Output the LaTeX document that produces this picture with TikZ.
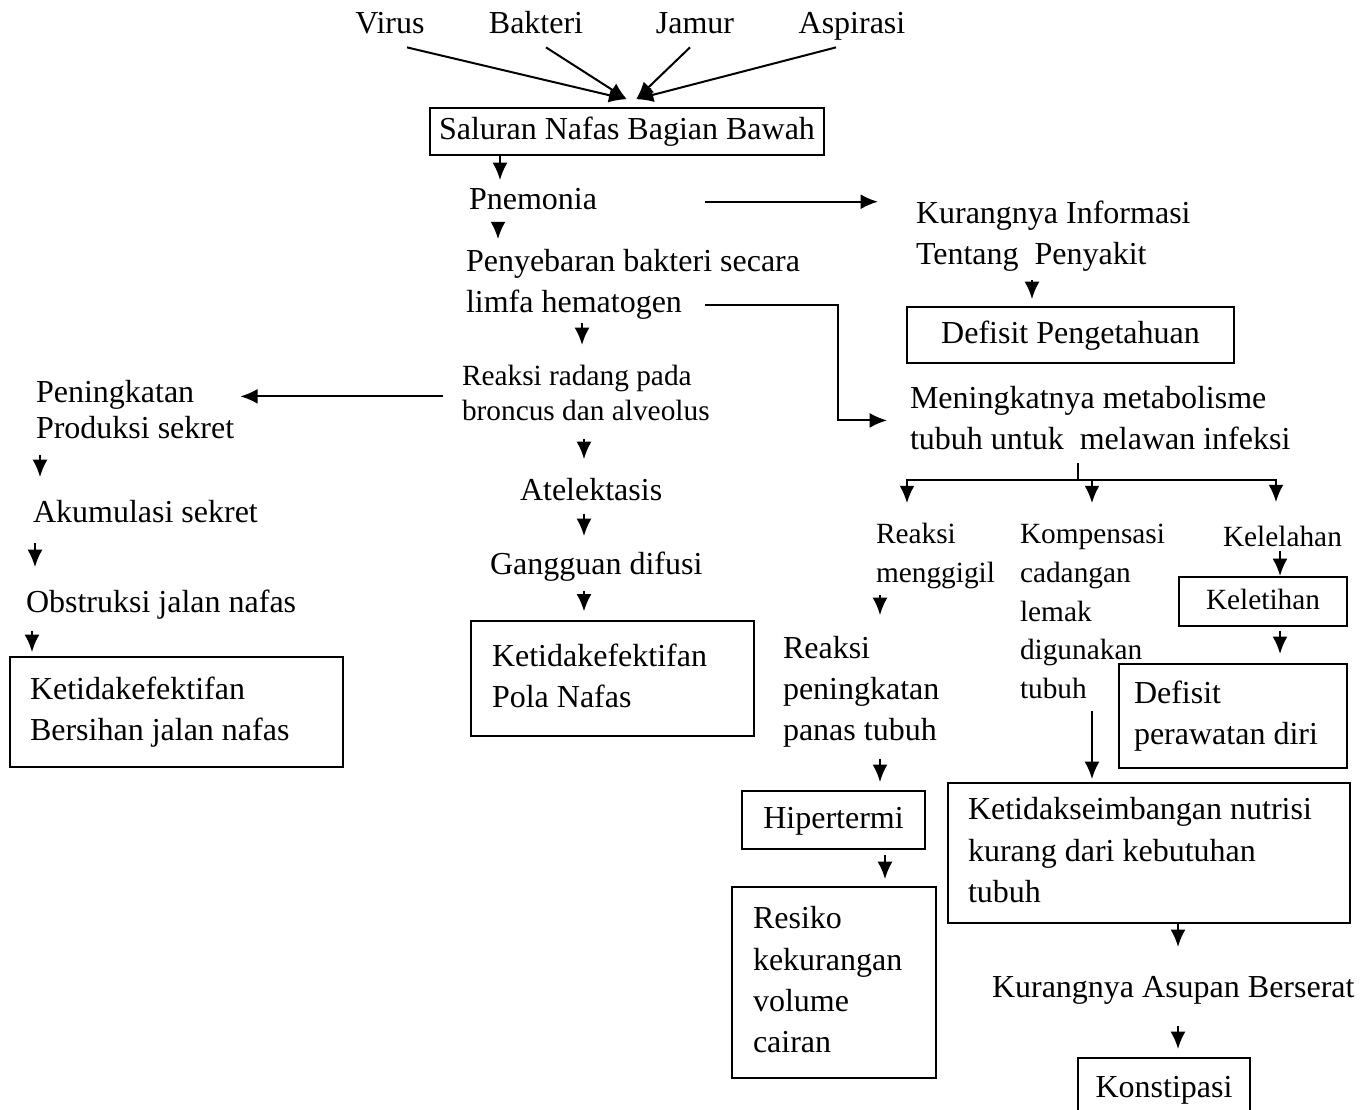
\documentclass[tikz,border=0pt]{standalone}
\usepackage{fontspec}
\setmainfont{Liberation Serif}
\usepackage{tikz}
\usetikzlibrary{arrows.meta}
\newdimen\pxu \pxu=0.375pt
\newcommand{\fsMain}{\fontsize{12}{15.5}\selectfont}
\newcommand{\fsSmall}{\fontsize{11}{14.5}\selectfont}
\newcommand{\fsRadang}{\fontsize{11}{13}\selectfont}
\newcommand{\fsTight}{\fontsize{12}{13.5}\selectfont}
\setlength{\parindent}{0pt}

\begin{document}
\begin{tikzpicture}[x=0.375pt,y=-0.375pt,>={Latex[length=6.5pt,width=5.6pt]},line width=0.75pt,
  tx/.style={inner sep=0pt,align=left,font=\fsMain,execute at begin node=\strut},
  sm/.style={tx,font=\fsSmall},
  st/.style={draw,tx,align=center},
  bx/.style={draw,tx,align=flush left,inner ysep=0pt,execute at end node=\strut},
  every edge/.style={draw,->}]
\useasboundingbox (0,0) rectangle (1364,1110);
\node[tx,anchor=base] (virus) at (390,34) {Virus};
\node[tx,anchor=base] (bakteri) at (536,34) {Bakteri};
\node[tx,anchor=base] (jamur) at (695,34) {Jamur};
\node[tx,anchor=base] (aspirasi) at (852,34) {Aspirasi};
\node[st,minimum width=394\pxu,minimum height=47\pxu] (sal) at (627,131.5) {Saluran Nafas Bagian Bawah};
\node[tx,anchor=base west] (pnem) at (468,210) {Pnemonia};
\node[tx,anchor=base west] (peny) at (465,272) {Penyebaran bakteri secara};
\node[tx,anchor=base west] (limfa) at (465,313) {limfa hematogen};
\node[tx,anchor=north west] (kurang) at (915,193.1) {\strut Kurangnya Informasi\\Tentang\ \ Penyakit\strut};
\node[st,minimum width=327\pxu,minimum height=56\pxu] (defpeng) at (1070.5,335) {Defisit Pengetahuan};
\node[tx,anchor=north west] (meta) at (909,378.1) {\strut Meningkatnya metabolisme\\tubuh untuk\ \ melawan infeksi\strut};
\node[tx,font=\fsRadang,anchor=north west] (radang) at (461,360.7) {\strut Reaksi radang pada\\broncus dan alveolus\strut};
\node[tx,font=\fsTight,anchor=north west] (produksi) at (35,376.8) {\strut Peningkatan\\Produksi sekret\strut};
\node[tx,anchor=base west] (akum) at (32,523) {Akumulasi sekret};
\node[tx,anchor=base west] (obstr) at (25,613) {Obstruksi jalan nafas};
\node[bx,text width=293\pxu,inner xsep=20\pxu,minimum height=110\pxu] (bersihan) at (176.5,712) {Ketidakefektifan\\Bersihan jalan nafas};
\node[tx,anchor=base west] (atel) at (519,501) {Atelektasis};
\node[tx,anchor=base west] (difusi) at (489,574.5) {Gangguan difusi};
\node[bx,text width=241\pxu,inner xsep=21\pxu,minimum height=115\pxu] (pola) at (612.5,679) {Ketidakefektifan\\Pola Nafas};
\node[sm,anchor=north west] (gigil) at (875,515.9) {\strut Reaksi\\menggigil\strut};
\node[sm,anchor=north west] (kompen) at (1019,515.9) {\strut Kompensasi\\cadangan\\lemak\\digunakan\\tubuh\strut};
\node[sm,anchor=base west] (lelah) at (1222,547) {Kelelahan};
\node[st,font=\fsSmall,minimum width=168\pxu,minimum height=49\pxu] (letih) at (1263,601.5) {Keletihan};
\node[bx,text width=198\pxu,inner xsep=15\pxu,minimum height=104\pxu] (rawat) at (1233,716) {Defisit\\perawatan diri};
\node[tx,anchor=north west] (panas) at (782,628.1) {\strut Reaksi\\peningkatan\\panas tubuh\strut};
\node[st,minimum width=183\pxu,minimum height=58\pxu] (hiper) at (833.5,820) {Hipertermi};
\node[bx,text width=162\pxu,inner xsep=21\pxu,minimum height=191\pxu] (resiko) at (834,982.5) {Resiko\\kekurangan\\volume\\cairan};
\node[bx,text width=362\pxu,inner xsep=20\pxu,minimum height=140\pxu] (nutrisi) at (1149,853) {Ketidakseimbangan nutrisi\\kurang dari kebutuhan\\tubuh};
\node[tx,anchor=base west] (asupan) at (991,998) {Kurangnya Asupan Berserat};
\node[st,minimum width=172\pxu,minimum height=63.4\pxu] (konst) at (1164,1089.7) {Konstipasi};
\draw (virus.south -| 407,0) edge[shorten >=12.6pt] (sal.north -| 659,0);
\draw (bakteri.south -| 546,0) edge[shorten >=5.4pt] (sal.north -| 639,0);
\draw (jamur.south -| 690,0) edge[shorten >=4.3pt] (sal.north -| 628,0);
\draw (aspirasi.south -| 836,0) edge[shorten >=11.6pt] (sal.north -| 606,0);
\draw (sal.south -| 500,0) edge (pnem.north -| 500,0);
\draw (pnem.south -| 498,0) edge[shorten >=1.1pt] (peny.north -| 498,0);
\draw (pnem) edge[shorten <=40.1pt,shorten >=13.9pt] (pnem -| kurang.west);
\draw (limfa.south -| 582,0) edge[shorten <=-1.3pt,shorten >=5.9pt] (radang.north -| 582,0);
\draw[->,shorten <=8.25pt,shorten >=8.25pt] (limfa.east) -| (meta.west -| 838,0) -- (meta.west);
\draw (radang) edge[shorten <=6.75pt,shorten >=1.9pt] (radang -| produksi.east);
\draw (produksi.south -| 40,0) edge[shorten <=1.5pt,shorten >=6pt] (akum.north -| 40,0);
\draw (akum.south -| 35,0) edge[shorten <=2.5pt,shorten >=6pt] (obstr.north -| 35,0);
\draw (obstr.south -| 32,0) edge[shorten <=1.7pt,shorten >=1.5pt] (bersihan.north -| 32,0);
\draw (radang.south -| 584,0) edge[shorten <=2.6pt,shorten >=4.5pt] (atel.north -| 584,0);
\draw (atel.south -| 584,0) edge[shorten >=3.2pt] (difusi.north -| 584,0);
\draw (difusi.south -| 584,0) edge[shorten <=1.2pt,shorten >=3.4pt] (pola.north -| 584,0);
\draw (kurang.south -| 1032,0) edge[shorten <=1pt,shorten >=2.6pt] (defpeng.north -| 1032,0);
\draw (meta.south -| 1078,0) -- ++(0,17) coordinate (fork);
\draw[->,shorten >=4.8pt] (fork) -| (gigil.north -| 907,0);
\draw[->,shorten >=4.8pt] (fork) -| (kompen.north -| 1092,0);
\draw[->,shorten >=6.3pt] (fork) -| (lelah.north -| 1276,0);
\draw (lelah.south -| 1280,0) edge[shorten <=-3.2pt] (letih.north -| 1280,0);
\draw (letih.south -| 1280,0) edge[shorten <=1.5pt,shorten >=3.4pt] (rawat.north -| 1280,0);
\draw (gigil.south -| 880,0) edge[shorten >=4.9pt] (panas.north -| 880,0);
\draw (panas.south -| 880,0) edge[shorten <=1.9pt,shorten >=3pt] (hiper.north -| 880,0);
\draw (hiper.south -| 885,0) edge[shorten <=1.9pt,shorten >=2.6pt] (resiko.north -| 885,0);
\draw (kompen.south -| 1092,0) edge[shorten >=1.1pt] (nutrisi.north -| 1092,0);
\draw (nutrisi.south -| 1178,0) edge[shorten >=7.9pt] (asupan.north -| 1178,0);
\draw (asupan.south -| 1178,0) edge[shorten <=5.5pt,shorten >=3pt] (konst.north -| 1178,0);
\end{tikzpicture}
\end{document}
